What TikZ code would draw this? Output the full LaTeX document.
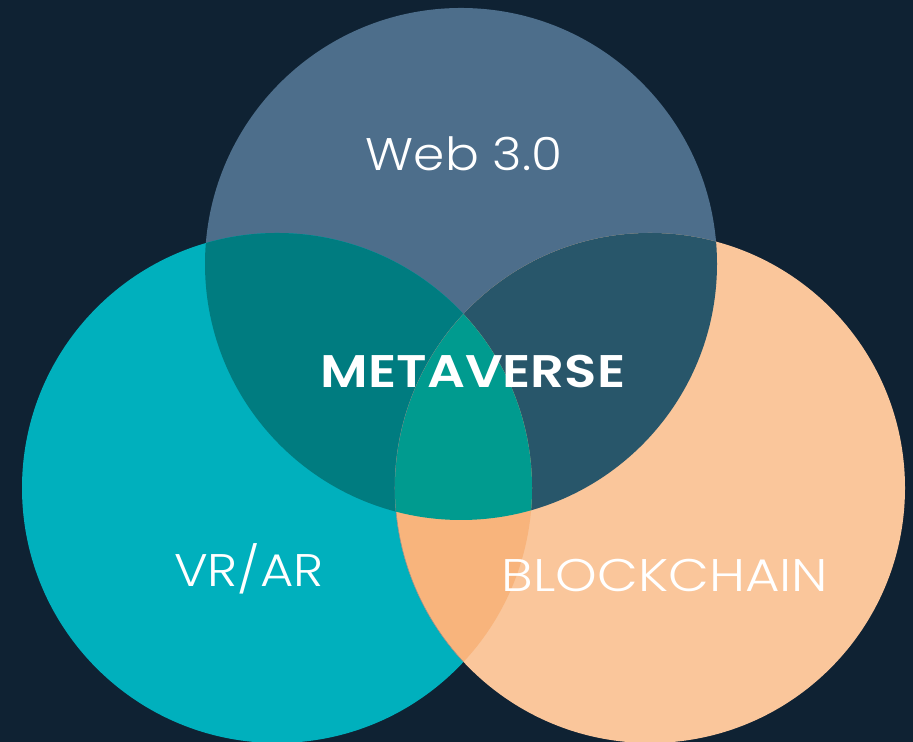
\documentclass[tikz,border=0pt]{standalone}
\usepackage{fontspec}
\setmainfont{Poppins Light}
\newfontfamily\boldlabel{Poppins SemiBold}
\usepackage{tikz}

\definecolor{bgnavy}{HTML}{0F2233}
\definecolor{webblue}{HTML}{4D6E8B}
\definecolor{vrteal}{HTML}{00B0BD}
\definecolor{chainpeach}{HTML}{FAC69B}
\definecolor{webvr}{HTML}{007C80}
\definecolor{webchain}{HTML}{28566A}
\definecolor{vrchain}{HTML}{F8B47C}
\definecolor{metagreen}{HTML}{009B8F}

\def\webcircle{(461, 478) circle [radius=256]}
\def\vrcircle{(277, 254) circle [radius=255]}
\def\chaincircle{(650, 254) circle [radius=255]}
\newcommand{\wide}[2]{\scalebox{#1}[1]{#2}}

\begin{document}
\begin{tikzpicture}[x=0.02cm, y=0.02cm,
	label/.style={text=white, font=\fontsize{26}{30}\selectfont, inner sep=0pt, anchor=base}]
		%%%%% START %%%%%
		\fill[bgnavy] (0, 0) rectangle (913, 742);
		\useasboundingbox (0, 0) rectangle (913, 742);
		
		\begin{scope}
			\clip (0, 0) rectangle (913, 742);
			\fill[webblue] \webcircle;
			\fill[vrteal] \vrcircle;
			\fill[chainpeach] \chaincircle;
			
			\begin{scope}
				\clip \webcircle;
				\fill[webvr] \vrcircle;
				\fill[webchain] \chaincircle;
			\end{scope}
			
			\begin{scope}
				\clip \vrcircle;
				\fill[vrchain] \chaincircle;
				\draw[black!45, line width=0.3pt] \chaincircle;
			\end{scope}
			
			\begin{scope}
				\clip \webcircle;
				\clip \vrcircle;
				\fill[metagreen] \chaincircle;
			\end{scope}
		\end{scope}
		
		\node[label] (web) at (464, 571) {\wide{1.1}{Web 3.0}};
		\node[label, font=\boldlabel\fontsize{26}{30}\selectfont] (meta) at (473, 354) {\wide{1.16}{METAVERSE}};
		\node[label] (vrar) at (249, 155) {\wide{1.12}{VR/AR}};
		\node[label] (chain) at (665, 150) {\wide{1.16}{BLOCKCHAIN}};
		%%%%% END %%%%%
\end{tikzpicture}
\end{document}
